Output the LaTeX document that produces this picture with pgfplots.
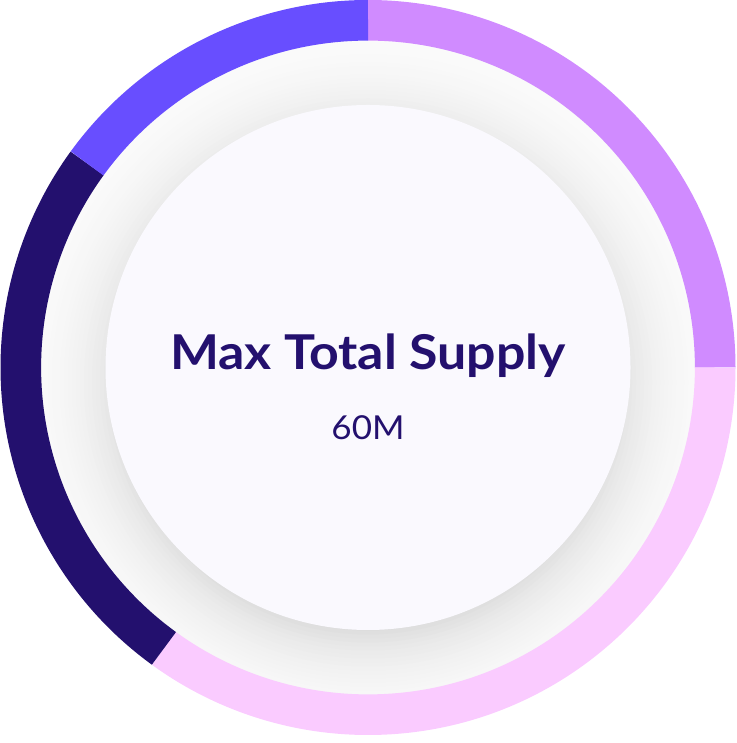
\documentclass[border=0pt]{standalone}
\usepackage{graphicx}
\usepackage{pgfplots}
\pgfplotsset{compat=1.18}
\usepackage{pgfplotstable}
\usepackage{fontspec}
\setmainfont{Lato}
\definecolor{cA}{HTML}{D08BFF}
\definecolor{cB}{HTML}{FACBFF}
\definecolor{cC}{HTML}{23106E}
\definecolor{cD}{HTML}{684EFF}
\definecolor{disc}{HTML}{FAF9FE}
\definecolor{txt}{HTML}{23106E}
\pgfplotstableread{
label value
A 25
B 35
C 25
D 15
}\supply
\begin{document}
\begin{tikzpicture}
\pgfplotstablegetelem{0}{value}\of\supply \let\vA\pgfplotsretval
\pgfplotstablegetelem{1}{value}\of\supply \let\vB\pgfplotsretval
\pgfplotstablegetelem{2}{value}\of\supply \let\vC\pgfplotsretval
\pgfplotstablegetelem{3}{value}\of\supply \let\vD\pgfplotsretval
\pgfmathsetmacro\sA{0}
\pgfmathsetmacro\eA{\sA+3.6*\vA}
\pgfmathsetmacro\eB{\eA+3.6*\vB}
\pgfmathsetmacro\eC{\eB+3.6*\vC}
\pgfmathsetmacro\eD{\eC+3.6*\vD}
\begin{axis}[x=0.5pt,y=0.5pt,xmin=0,xmax=736,ymin=0,ymax=743,hide axis,clip=false]
\pgfplotsinvokeforeach{344,340,...,248}{%
  \fill[black!\fpeval{round(14*exp(-(#1-247)/45),2)}] (axis cs:368,360.5) circle[radius={#1*0.5pt}];
}
\fill[disc] (axis cs:368,375.5) circle[radius=131.25pt];
\draw[cA,line width=20.3pt] (axis cs:368,375.5) ++(90-\sA:173.6pt) arc[start angle=90-\sA, end angle=90-\eA, radius=173.6pt];
\draw[cB,line width=20.3pt] (axis cs:368,375.5) ++(90-\eA:173.6pt) arc[start angle=90-\eA, end angle=90-\eB, radius=173.6pt];
\draw[cC,line width=20.3pt] (axis cs:368,375.5) ++(90-\eB:173.6pt) arc[start angle=90-\eB, end angle=90-\eC, radius=173.6pt];
\draw[cD,line width=20.3pt] (axis cs:368,375.5) ++(90-\eC:173.6pt) arc[start angle=90-\eC, end angle=90-\eD, radius=173.6pt];
\node[txt,anchor=base,inner sep=0pt,font=\bfseries\fontsize{24}{28}\selectfont] at (axis cs:368,373) {\scalebox{1.08}[1]{Max Total Supply}};
\node[txt,anchor=base,inner sep=0pt,font=\fontsize{16.5}{20}\selectfont] at (axis cs:368,303) {\scalebox{1.06}[1]{60M}};
\end{axis}
\pgfresetboundingbox
\path[use as bounding box] (current axis.south west) rectangle (current axis.north east);
\end{tikzpicture}
\end{document}
